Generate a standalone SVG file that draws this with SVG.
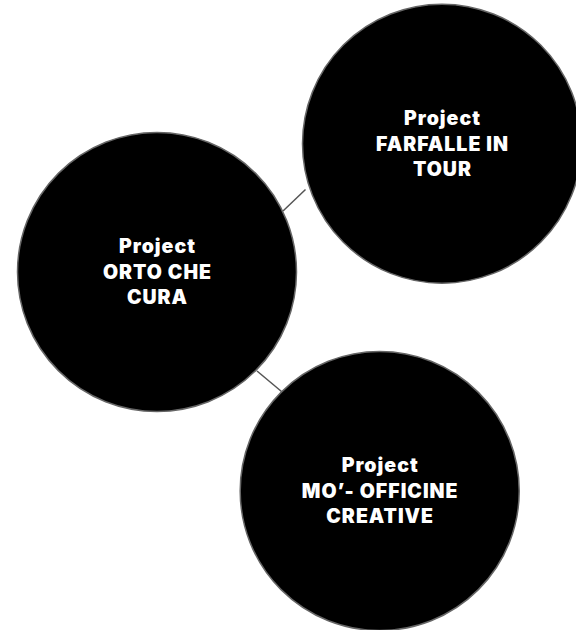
<svg xmlns="http://www.w3.org/2000/svg" width="576" height="630" viewBox="0 0 576 630">
<style>
.node{fill:#000;stroke:#666;stroke-width:1.5}
.lbl{font-family:Inter,"Liberation Sans",sans-serif;font-weight:900;font-size:19.5px;letter-spacing:1px;fill:#fff;text-anchor:middle}
.edge{stroke:#555;stroke-width:1.5;fill:none}
</style>
<rect width="576" height="630" fill="#fff"/>
<g id="connectors">
<line class="edge" x1="283" y1="211" x2="305.5" y2="189.5"/>
<line class="edge" x1="257" y1="371" x2="281.5" y2="391.5"/>
</g>
<g id="node-orto">
<circle class="node" cx="157" cy="272" r="139.5"/>
<text class="lbl" x="157.5" y="253">Project</text>
<text class="lbl" x="157.5" y="278.6">ORTO CHE</text>
<text class="lbl" x="157.5" y="304.2">CURA</text>
</g>
<g id="node-farfalle">
<circle class="node" cx="442" cy="143.7" r="139.5"/>
<text class="lbl" x="442.5" y="125">Project</text>
<text class="lbl" x="442.5" y="150.8">FARFALLE IN</text>
<text class="lbl" x="442.5" y="176.4">TOUR</text>
</g>
<g id="node-mo">
<circle class="node" cx="379.7" cy="491" r="139.5"/>
<text class="lbl" x="380.2" y="472">Project</text>
<text class="lbl" x="380.2" y="497.6">MO’- OFFICINE</text>
<text class="lbl" x="380.2" y="523.2">CREATIVE</text>
</g>
</svg>
